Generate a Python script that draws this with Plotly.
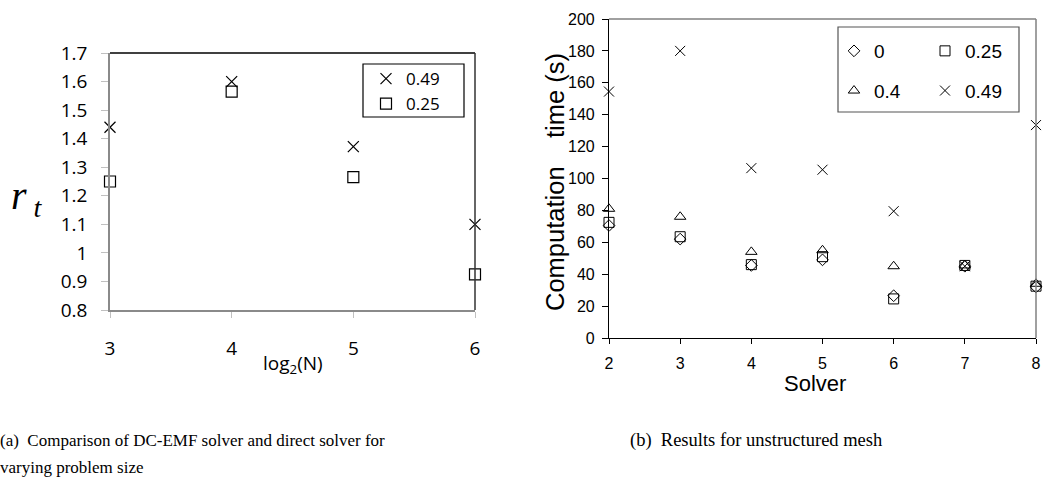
import plotly.graph_objects as go

W, H = 1054, 477

# ---- data: panel (a)
a_x = [3, 4, 5, 6]
a_049 = [1.44, 1.60, 1.372, 1.10]
a_025 = [1.25, 1.565, 1.265, 0.925]
a_yticks = [0.8, 0.9, 1.0, 1.1, 1.2, 1.3, 1.4, 1.5, 1.6, 1.7]
a_yticktext = ["0.8", "0.9", "1", "1.1", "1.2", "1.3", "1.4", "1.5", "1.6", "1.7"]
a_xticks = [3, 4, 5, 6]

# ---- data: panel (b)
b_x = [2, 3, 4, 5, 6, 7, 8]
b_0 = [70.5, 62, 45.5, 49, 26.5, 45, 32]
b_025 = [72.5, 63.5, 46, 51, 24.5, 45.5, 32.5]
b_04 = [81, 76, 54, 55, 45, 45.5, 34]
b_049 = [154.5, 180, 106.5, 105.5, 79.5, 45, 133.5]
b_yticks = [0, 20, 40, 60, 80, 100, 120, 140, 160, 180, 200]
b_xticks = [2, 3, 4, 5, 6, 7, 8]


def px(x):
    return x / W


def py(y):
    return 1 - y / H


A_FONT = "Open Sans"
B_FONT = "Liberation Sans"
SERIF = "Liberation Serif"

fig = go.Figure()

# panel (a) traces
fig.add_trace(go.Scatter(
    x=a_x, y=a_049, mode="markers", name="0.49", xaxis="x", yaxis="y",
    legend="legend", cliponaxis=False,
    marker=dict(symbol="x-thin-open", size=11, color="black",
                line=dict(width=1.2, color="black"))))
fig.add_trace(go.Scatter(
    x=a_x, y=a_025, mode="markers", name="0.25", xaxis="x", yaxis="y",
    legend="legend", cliponaxis=False,
    marker=dict(symbol="square-open", size=11, color="black",
                line=dict(width=1.2, color="black"))))

# panel (b) traces
b_style = dict(color="black", line=dict(width=1, color="black"))
fig.add_trace(go.Scatter(
    x=b_x, y=b_0, mode="markers", name="0", xaxis="x2", yaxis="y2",
    legend="legend2", legendgroup="g0", cliponaxis=False,
    marker=dict(symbol="diamond-open", size=9, **b_style)))
fig.add_trace(go.Scatter(
    x=b_x, y=b_04, mode="markers", name="0.4", xaxis="x2", yaxis="y2",
    legend="legend2", legendgroup="g1", cliponaxis=False,
    marker=dict(symbol="triangle-up-open", size=10, **b_style)))
fig.add_trace(go.Scatter(
    x=b_x, y=b_025, mode="markers", name="0.25", xaxis="x2", yaxis="y2",
    legend="legend3", legendgroup="g2", cliponaxis=False,
    marker=dict(symbol="square-open", size=10, **b_style)))
fig.add_trace(go.Scatter(
    x=b_x, y=b_049, mode="markers", name="0.49", xaxis="x2", yaxis="y2",
    legend="legend3", legendgroup="g3", cliponaxis=False,
    marker=dict(symbol="x-thin-open", size=10, **b_style)))

# panel geometry (pixels)
aL, aR, aT, aB = 110, 475, 53, 310
bL, bR, bT, bB = 609, 1036, 19, 338

shapes = [
    dict(type="line", xref="paper", yref="paper", x0=px(aL), x1=px(aR), y0=py(aT), y1=py(aT),
         line=dict(color="black", width=1.5)),
    dict(type="line", xref="paper", yref="paper", x0=px(aR), x1=px(aR), y0=py(aT), y1=py(aB),
         line=dict(color="#333333", width=1.5)),
    dict(type="rect", xref="paper", yref="paper", x0=px(363), x1=px(464), y0=py(64), y1=py(117),
         line=dict(color="black", width=1.2)),
    dict(type="line", xref="paper", yref="paper", x0=px(bL), x1=px(bR), y0=py(bT), y1=py(bT),
         line=dict(color="#808080", width=1.5)),
    dict(type="line", xref="paper", yref="paper", x0=px(bR), x1=px(bR), y0=py(bT), y1=py(bB),
         line=dict(color="#808080", width=1.5)),
    dict(type="rect", xref="paper", yref="paper", x0=px(838), x1=px(1019), y0=py(27), y1=py(112),
         line=dict(color="#555555", width=1.2)),
]


def ann(text, x, y, font, xanchor="center", yanchor="middle", **kw):
    return dict(text=text, x=px(x), y=py(y), xref="paper", yref="paper",
                xanchor=xanchor, yanchor=yanchor, showarrow=False, font=font, **kw)


annotations = [
    ann("<i>r</i><sub> <i>t</i></sub>", 27, 198, dict(family=SERIF, size=40, color="black")),
    ann("log<sub>2</sub>(N)", 293, 364, dict(family=A_FONT, size=19, color="black")),
    ann("Computation\u00a0\u00a0\u00a0 time (s)", 555, 182,
        dict(family=B_FONT, size=25.5, color="black"), textangle=-90),
    ann("Solver", 815, 383, dict(family=B_FONT, size=22, color="black")),
    ann("(a)  Comparison of DC-EMF solver and direct solver for", -2, 440,
        dict(family=SERIF, size=17, color="black"), xanchor="left", align="left"),
    ann("varying problem size", -2, 467,
        dict(family=SERIF, size=17, color="black"), xanchor="left", align="left"),
    ann("(b)  Results for unstructured mesh", 628, 440,
        dict(family=SERIF, size=18.5, color="black"), xanchor="left", align="left"),
]

fig.update_layout(
    width=W, height=H,
    margin=dict(l=0, r=0, t=0, b=0, autoexpand=False),
    paper_bgcolor="white", plot_bgcolor="white",
    showlegend=True,
    xaxis=dict(domain=[px(aL), px(aR)], anchor="y", range=[3, 6], tickvals=a_xticks,
               ticks="outside", ticklen=6, tickcolor="#c0c0c0", showline=True,
               linecolor="#8a8a8a", linewidth=1.5, showgrid=False, zeroline=False,
               automargin=False,
               ticklabelstandoff=14, tickfont=dict(family=A_FONT, size=19, color="black")),
    yaxis=dict(domain=[py(aB), py(aT)], anchor="x", range=[0.8, 1.7], tickvals=a_yticks,
               ticktext=a_yticktext, ticks="outside", ticklen=7, tickcolor="#c0c0c0",
               showline=True, linecolor="#8a8a8a", linewidth=1.5, showgrid=False,
               zeroline=False, ticklabelstandoff=10, automargin=False,
               tickfont=dict(family=A_FONT, size=19, color="black")),
    xaxis2=dict(domain=[px(bL), px(bR)], anchor="y2", range=[2, 8], tickvals=b_xticks,
                ticks="outside", ticklen=5, tickcolor="black", showline=True,
                linecolor="black", linewidth=1.2, showgrid=False, zeroline=False,
                automargin=False,
                ticklabelstandoff=6, tickfont=dict(family=B_FONT, size=16, color="black")),
    yaxis2=dict(domain=[py(bB), py(bT)], anchor="x2", range=[0, 200], tickvals=b_yticks,
                ticks="outside", ticklen=6, tickcolor="black", showline=True,
                linecolor="black", linewidth=1.2, showgrid=False, zeroline=False,
                automargin=False,
                ticklabelstandoff=4, tickfont=dict(family=B_FONT, size=16, color="black")),
    legend=dict(x=px(366), y=py(61), xanchor="left", yanchor="top", bgcolor="rgba(0,0,0,0)",
                borderwidth=0, font=dict(family=A_FONT, size=17, color="black"),
                tracegroupgap=0),
    legend2=dict(x=px(834), y=py(32), xanchor="left", yanchor="top", bgcolor="rgba(0,0,0,0)",
                 borderwidth=0, font=dict(family=B_FONT, size=19, color="black"),
                 tracegroupgap=12),
    legend3=dict(x=px(925), y=py(32), xanchor="left", yanchor="top", bgcolor="rgba(0,0,0,0)",
                 borderwidth=0, font=dict(family=B_FONT, size=19, color="black"),
                 tracegroupgap=12),
    shapes=shapes,
    annotations=annotations,
)

fig.write_html("out.html", config={"displayModeBar": False},
               post_script="document.body.style.margin='0';")
